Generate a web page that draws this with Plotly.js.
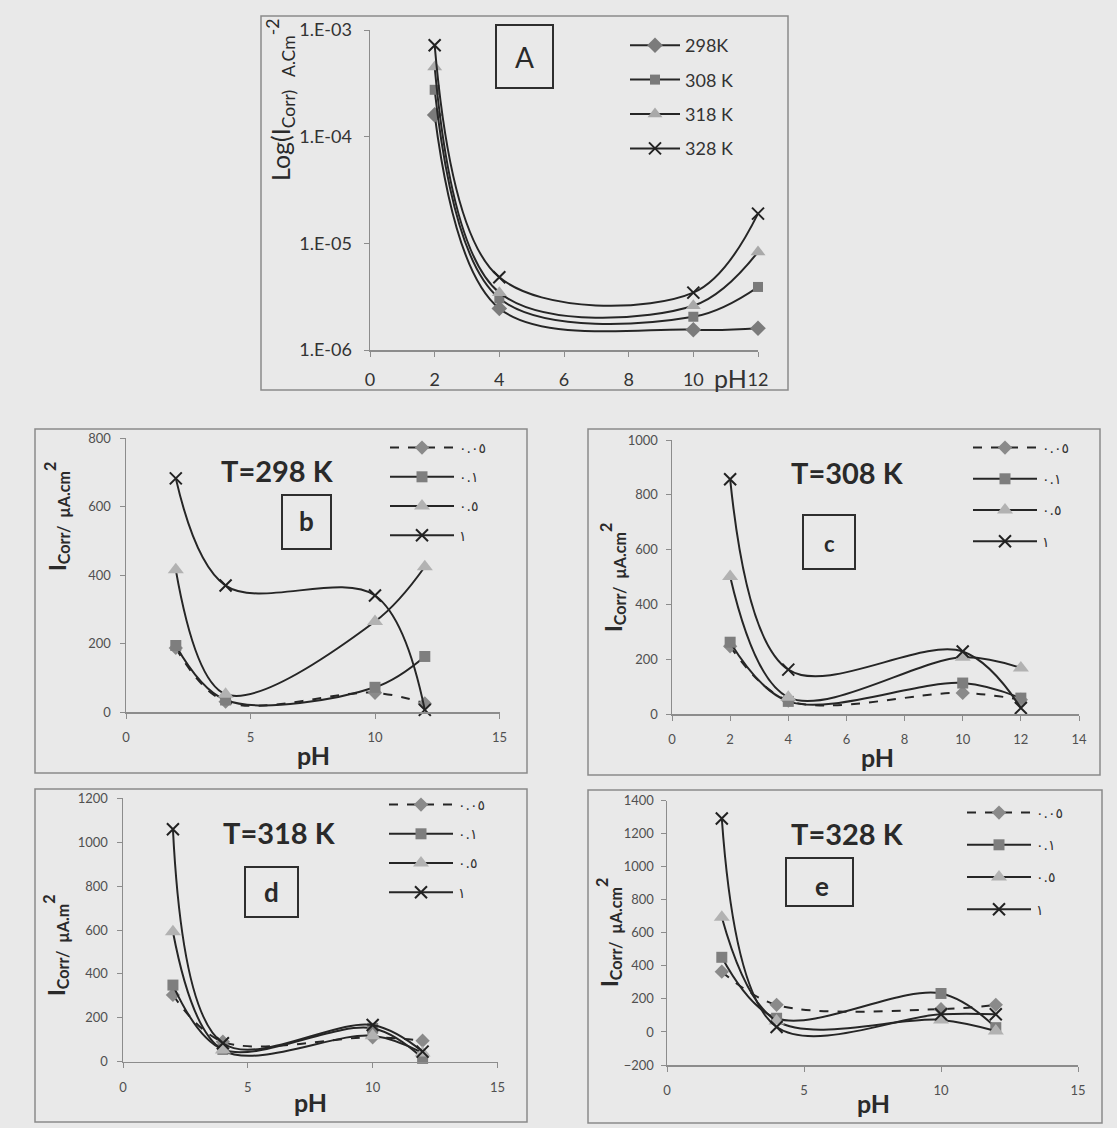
<!DOCTYPE html>
<html>
<head>
<meta charset="utf-8">
<script src="https://cdn.plot.ly/plotly-3.0.1.min.js"></script>
<style>
html,body{margin:0;padding:0;background:#e9e9e9;}
#chart{width:1117px;height:1128px;}
</style>
</head>
<body>
<div id="chart"></div>
<script>
// ---------------- DATA ----------------
const pH = [2, 4, 10, 12];

// Panel A: Icorr (A/cm2) vs pH at different temperatures
const tempLabels = ['298K', '308 K', '318 K', '328 K'];
const logI_298 = [1.6e-4, 2.45e-6, 1.55e-6, 1.6e-6];
const logI_308 = [2.75e-4, 3.05e-6, 2.05e-6, 3.9e-6];
const logI_318 = [4.5e-4, 3.45e-6, 2.6e-6, 8.3e-6];
const logI_328 = [7.2e-4, 4.8e-6, 3.45e-6, 1.9e-5];
const yTickVals = [1e-6, 1e-5, 1e-4, 1e-3];
const yTickText = ['1.E-06', '1.E-05', '1.E-04', '1.E-03'];

// Concentration legend labels (Arabic-Indic digits)
const concLabels = ['٠.٠٥', '٠.١', '٠.٥', '١'];

// Panel b: T = 298 K (µA/cm2)
const b_005 = [188, 31, 57, 26];
const b_01  = [195, 36, 73, 163];
const b_05  = [416, 53, 265, 425];
const b_1   = [683, 370, 341, 7];

// Panel c: T = 308 K
const c_005 = [247, 49, 77, 52];
const c_01  = [262, 46, 113, 58];
const c_05  = [502, 61, 207, 168];
const c_1   = [857, 162, 228, 22];

// Panel d: T = 318 K
const d_005 = [304, 91, 111, 96];
const d_01  = [349, 56, 152, 15];
const d_05  = [592, 53, 118, 40];
const d_1   = [1059, 84, 167, 46];

// Panel e: T = 328 K
const e_005 = [365, 164, 138, 164];
const e_01  = [452, 83, 233, 26];
const e_05  = [695, 67, 73, 6];
const e_1   = [1292, 30, 107, 107];

const panelTitles = ['T=298 K', 'T=308 K', 'T=318 K', 'T=328 K'];
const panelLetters = ['A', 'b', 'c', 'd', 'e'];

// ---------------- HELPERS ----------------
const W = 1117, H = 1128;
const px = v => v / W;
const py = v => 1 - v / H;
const LINE = '#262626';
const AXC = '#8c8c8c';

const markerA = [
  {symbol: 'diamond', size: 12, color: '#7b7b7b'},
  {symbol: 'square', size: 10, color: '#7a7a7a'},
  {symbol: 'triangle-up', size: 13, color: '#a9a9a9'},
  {symbol: 'x-thin', size: 12, color: '#222', line: {width: 2, color: '#222'}}
];
const markerB = [
  {symbol: 'diamond', size: 11, color: '#8a8a8a'},
  {symbol: 'square', size: 11, color: '#7e7e7e'},
  {symbol: 'triangle-up', size: 14, color: '#b2b2b2'},
  {symbol: 'x-thin', size: 12, color: '#222', line: {width: 2, color: '#222'}}
];

const traces = [];
const seriesA = [logI_298, logI_308, logI_318, logI_328];
seriesA.forEach((ys, i) => {
  traces.push({
    x: pH, y: ys, xaxis: 'x', yaxis: 'y', name: tempLabels[i],
    mode: 'lines+markers', type: 'scatter', cliponaxis: false,
    line: {color: LINE, width: 2, shape: 'spline', smoothing: 1},
    marker: markerA[i], legend: 'legend', legendgroup: 'A' + i
  });
});

const panels = [
  [b_005, b_01, b_05, b_1],
  [c_005, c_01, c_05, c_1],
  [d_005, d_01, d_05, d_1],
  [e_005, e_01, e_05, e_1]
];
panels.forEach((sets, p) => {
  const n = p + 2;
  sets.forEach((ys, i) => {
    traces.push({
      x: pH, y: ys, xaxis: 'x' + n, yaxis: 'y' + n, name: concLabels[i],
      mode: 'lines+markers', type: 'scatter', cliponaxis: false,
      line: {color: LINE, width: 2, shape: 'spline', smoothing: 1, dash: i === 0 ? 'dash' : 'solid'},
      marker: markerB[i], legend: 'legend' + n, legendgroup: 'P' + n + '_' + i
    });
  });
});

function xAx(d0, d1, range, dtick, fs, anchor, standoff) {
  return {domain: [px(d0), px(d1)], range: range, dtick: dtick, tick0: 0, anchor: anchor,
    showline: true, linecolor: AXC, linewidth: 1.5, ticks: 'outside', ticklen: 5, tickcolor: AXC,
    tickfont: {family: 'Lato, Open Sans, sans-serif', size: fs, color: fs > 15 ? '#333' : '#505050'},
    showgrid: false, zeroline: false, ticklabelstandoff: standoff, fixedrange: true};
}
function yAx(top, bot, range, dtick, fs, anchor, standoff) {
  return {domain: [py(bot), py(top)], range: range, dtick: dtick, tick0: 0, anchor: anchor,
    showline: true, linecolor: AXC, linewidth: 1.5, ticks: 'outside', ticklen: 5, tickcolor: AXC,
    tickfont: {family: 'Lato, Open Sans, sans-serif', size: fs, color: fs > 15 ? '#333' : '#505050'},
    showgrid: false, zeroline: false, ticklabelstandoff: standoff, fixedrange: true};
}

const layout = {
  width: W, height: H,
  margin: {l: 0, r: 0, t: 0, b: 0, autoexpand: false},
  paper_bgcolor: '#e9e9e9', plot_bgcolor: 'rgba(0,0,0,0)',
  showlegend: true,
  xaxis: xAx(370, 758, [0, 12], 2, 18, 'y', 8),
  yaxis: Object.assign(yAx(30, 350, [-6, -3], null, 18, 'x', 8),
    {type: 'log', tickvals: yTickVals, ticktext: yTickText, dtick: undefined, tick0: undefined}),
  xaxis2: xAx(126, 499.5, [0, 15], 5, 13, 'y2', 8),
  yaxis2: yAx(438.3, 712.3, [0, 800], 200, 13, 'x2', 6),
  xaxis3: xAx(672, 1079, [0, 14], 2, 13, 'y3', 8),
  yaxis3: yAx(440, 714, [0, 1000], 200, 13, 'x3', 5),
  xaxis4: xAx(123, 497.5, [0, 15], 5, 13, 'y4', 8),
  yaxis4: yAx(798.3, 1061.7, [0, 1200], 200, 13, 'x4', 6),
  xaxis5: xAx(667, 1078, [0, 15], 5, 13, 'y5', 8),
  yaxis5: yAx(800.7, 1065, [-200, 1400], 200, 13, 'x5', 4),
  shapes: [],
  annotations: []
};

function legendAt(x, y, fs, gap, family, iw) {
  return {x: px(x), y: py(y), xanchor: 'left', yanchor: 'top', bgcolor: 'rgba(0,0,0,0)',
    borderwidth: 0, traceorder: 'grouped', tracegroupgap: gap, itemwidth: iw,
    font: {family: family, size: fs, color: '#333'}, itemclick: false, itemdoubleclick: false};
}
layout.legend = legendAt(625, 27, 18, 8, 'Lato, Open Sans, sans-serif', 50);
layout.legend2 = legendAt(385, 432, 14, 8, 'DejaVu Sans, sans-serif', 64);
layout.legend3 = legendAt(968, 432, 14, 10, 'DejaVu Sans, sans-serif', 64);
layout.legend4 = legendAt(384, 789, 14, 8, 'DejaVu Sans, sans-serif', 64);
layout.legend5 = legendAt(962, 797, 14, 11, 'DejaVu Sans, sans-serif', 64);

// outer frames
const frames = [[261, 16, 788, 390], [35, 429, 527, 773], [588, 429, 1100, 775], [35, 789, 527, 1122], [588, 790, 1102, 1123]];
frames.forEach(f => layout.shapes.push({type: 'rect', xref: 'paper', yref: 'paper',
  x0: px(f[0]), x1: px(f[2]), y0: py(f[3]), y1: py(f[1]), line: {color: '#8a8a8a', width: 1.5}, layer: 'below'}));

// letter boxes
const boxes = [[496, 25, 553, 88], [282, 495, 331, 549], [803, 515, 855, 569], [245, 867, 298, 917], [786, 858, 853, 906]];
boxes.forEach(b => layout.shapes.push({type: 'rect', xref: 'paper', yref: 'paper',
  x0: px(b[0]), x1: px(b[2]), y0: py(b[3]), y1: py(b[1]), line: {color: '#2e2e2e', width: 2}}));

function ann(text, x, y, size, opts) {
  layout.annotations.push(Object.assign({text: text, xref: 'paper', yref: 'paper', x: px(x), y: py(y),
    xanchor: 'center', yanchor: 'middle', showarrow: false,
    font: {family: 'Lato, Open Sans, sans-serif', size: size, color: '#2a2a2a'}}, opts || {}));
}
// box letters
ann(panelLetters[0], 524.5, 57, 28);
ann('<b>' + panelLetters[1] + '</b>', 306.5, 521, 26);
ann('<b>' + panelLetters[2] + '</b>', 829, 543, 22);
ann('<b>' + panelLetters[3] + '</b>', 271.5, 892, 26);
ann('<b>' + panelLetters[4] + '</b>', 822, 886, 26);

// panel titles
ann('<b>' + panelTitles[0] + '</b>', 277, 470, 29);
ann('<b>' + panelTitles[1] + '</b>', 847, 472, 29);
ann('<b>' + panelTitles[2] + '</b>', 279, 832, 29);
ann('<b>' + panelTitles[3] + '</b>', 847, 833, 29);

// x titles
ann('pH', 730, 378, 24, {font: {family: 'Lato, Open Sans, sans-serif', size: 25, color: '#333'}});
ann('<b>pH</b>', 313, 755, 25);
ann('<b>pH</b>', 877, 757, 25);
ann('<b>pH</b>', 310, 1102, 25);
ann('<b>pH</b>', 873, 1103, 25);

// y titles
ann('Log(I<sub>Corr)</sub>  <sub>A.Cm</sub><sup>-2</sup>', 281, 100, 25, {textangle: -90});
ann('<b>I</b><b><sub>Corr/  µA.cm</sub></b><b><sup>2</sup></b>', 57, 517, 23, {textangle: -90});
ann('<b>I</b><b><sub>Corr/  µA.cm</sub></b><b><sup>2</sup></b>', 612, 578, 23, {textangle: -90});
ann('<b>I</b><b><sub>Corr/  µA.m</sub></b><b><sup>2</sup></b>', 55, 945, 23, {textangle: -90});
ann('<b>I</b><b><sub>Corr/  µA.cm</sub></b><b><sup>2</sup></b>', 608, 932, 23, {textangle: -90});

Plotly.newPlot('chart', traces, layout, {displayModeBar: false, staticPlot: true});
</script>
</body>
</html>
